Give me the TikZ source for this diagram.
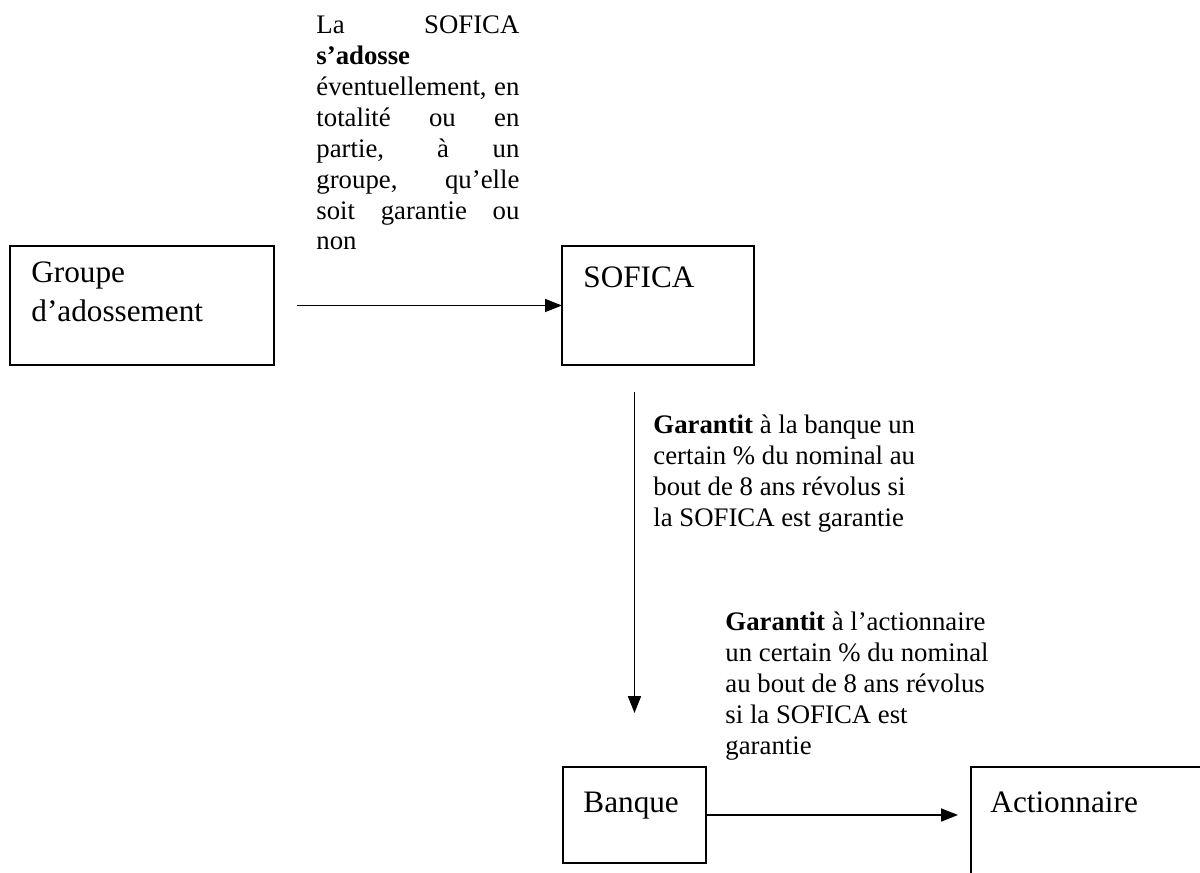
\documentclass[tikz,border=0pt]{standalone}
\usepackage{fontspec}
\setmainfont{Liberation Serif}
\usetikzlibrary{arrows.meta,calc}
\newdimen\px \px=0.4484pt
\begin{document}
\begin{tikzpicture}[x=0.4484pt, y=-0.4484pt,
  box/.style={draw, line width=0.8pt, inner sep=0pt, outer sep=0pt},
  lbl/.style={anchor=base west, inner sep=0pt, font=\fontsize{14}{17.9}\selectfont},
  ann/.style={anchor=base west, inner sep=0pt, font=\fontsize{12}{13.9}\selectfont},
  arr/.style={line width=0.8pt, -{Triangle[length=7.6pt, width=5.8pt]}}]
\useasboundingbox (0,0) rectangle (1200,872);

% boxes
\node[box, minimum width=118.4pt, minimum height=53.4pt] (groupe) at (142,305.5) {};
\node[box, minimum width=86.1pt, minimum height=53.4pt] (sofica) at (658,305.5) {};
\node[box, minimum width=64.1pt, minimum height=43.0pt] (banque) at (634.5,815) {};
\begin{scope}
  \clip (0,0) rectangle (1200,872);
  \node[box, minimum width=120.6pt, minimum height=59.6pt] (action) at (1105.5,833.5) {};
\end{scope}

% box labels
\node[lbl] (groupetxt) at (31,282) {\vtop{\hbox{Groupe}\hbox{d’adossement}}};
\node[lbl] (soficatxt) at (583,287) {SOFICA};
\node[lbl] (banquetxt) at (583,812) {Banque};
\node[lbl] (actiontxt) at (990,812) {Actionnaire};

% annotations
\node[ann] (note1) at (316,33) {\vtop{%
  \hbox{\makebox[91pt][s]{La SOFICA}}%
  \hbox{\textbf{s’adosse}}%
  \hbox{\makebox[91pt][s]{éventuellement, en}}%
  \hbox{\makebox[91pt][s]{totalité ou en}}%
  \hbox{\makebox[91pt][s]{partie, à un}}%
  \hbox{\makebox[91pt][s]{groupe, qu’elle}}%
  \hbox{\makebox[91pt][s]{soit garantie ou}}%
  \hbox{non}}};
\node[ann] (note2) at (653,433) {\vtop{%
  \hbox{\textbf{Garantit} à la banque un}%
  \hbox{certain \% du nominal au}%
  \hbox{bout de 8 ans révolus si}%
  \hbox{la SOFICA est garantie}}};
\node[ann] (note3) at (725,630) {\vtop{%
  \hbox{\textbf{Garantit} à l’actionnaire}%
  \hbox{un certain \% du nominal}%
  \hbox{au bout de 8 ans révolus}%
  \hbox{si la SOFICA est}%
  \hbox{garantie}}};

% connectors
\draw[arr] ([xshift=10.3pt]groupe.east) -- (sofica.west);
\draw[arr] ($(banque.north |- sofica.south)+(0,27)$) -- ($(banque.north)+(0,-54)$);
\draw[arr] (banque.east) -- ($(banque.east -| action.west)+(-13,0)$);
\end{tikzpicture}
\end{document}
